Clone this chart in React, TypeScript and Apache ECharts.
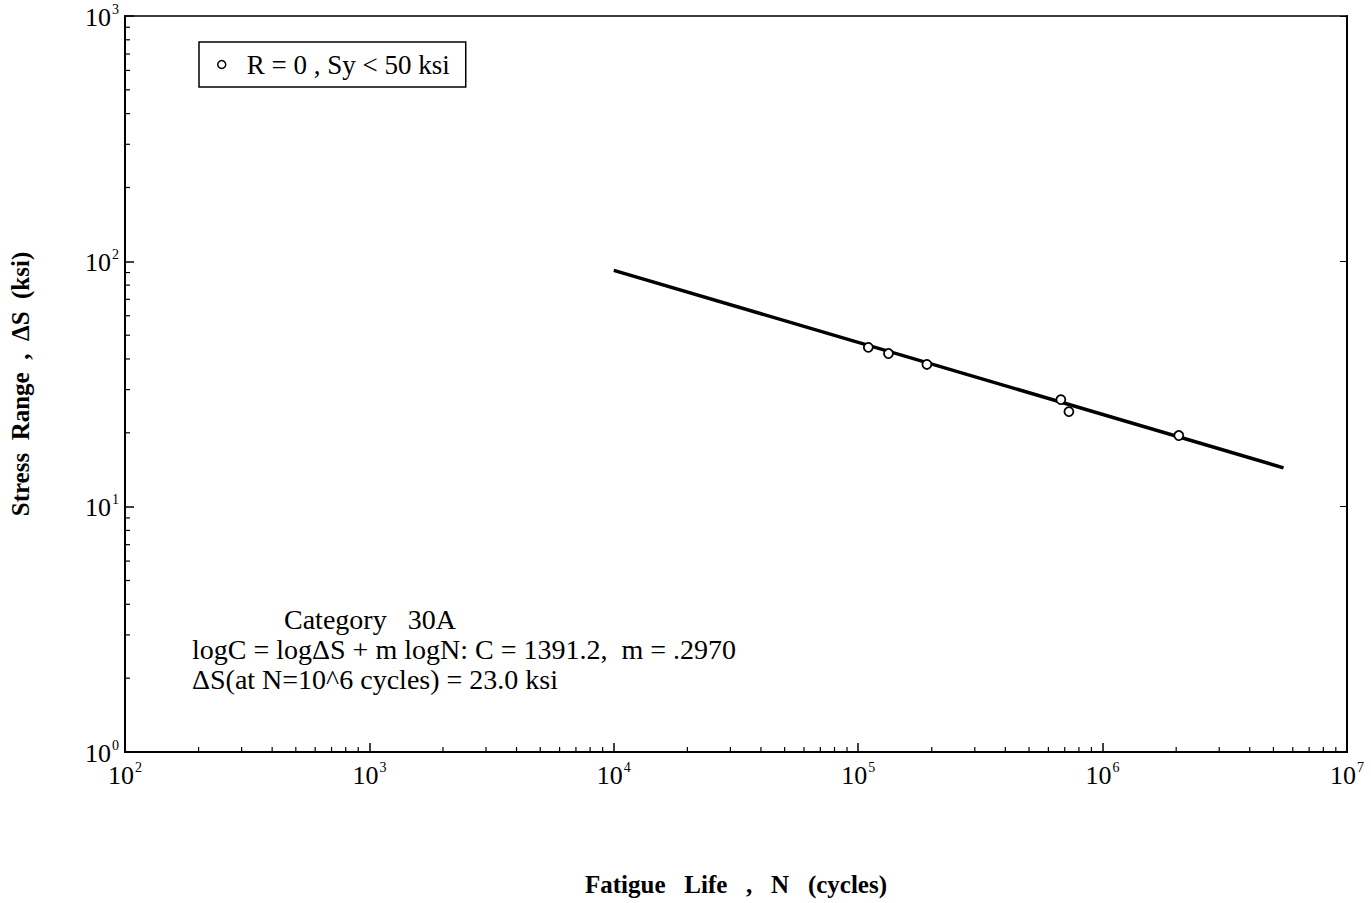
import React, { useEffect, useRef } from "react";
import * as echarts from "echarts";

const seriesName = "R = 0 , Sy < 50 ksi";
const testN = [1.1e5, 1.33e5, 1.91e5, 6.75e5, 7.28e5, 2.05e6];
const testS = [44.6, 42.1, 38.0, 27.3, 24.4, 19.5];
const fitN = [1.0e4, 5.5e6];
const fitS = [91.9, 14.4];
const xDecades = [2, 3, 4, 5, 6];
const yDecades = [0, 1, 2];
const minorMult = [2, 3, 4, 5, 6, 7, 8, 9];
const annotation = [
  "Category   30A",
  "logC = logΔS + m logN: C = 1391.2,  m = .2970",
  "ΔS(at N=10^6 cycles) = 23.0 ksi",
];

const FONT = "'Liberation Serif', 'Times New Roman', serif";

export default function App() {
  const ref = useRef<HTMLDivElement>(null);
  useEffect(() => {
    const chart = echarts.init(ref.current!, null, { renderer: "svg" });
    const xMinor: number[][] = [];
    xDecades.forEach((d) => minorMult.forEach((k) => xMinor.push([k * Math.pow(10, d), 1])));
    const yMinor: number[][] = [];
    yDecades.forEach((d) => minorMult.forEach((k) => yMinor.push([100, k * Math.pow(10, d)])));

    const supLabel = (v: number) => `{b|10}{s|${Math.round(Math.log10(v))}}`;
    const rich = {
      b: { fontFamily: FONT, fontSize: 26, color: "#000", lineHeight: 28, verticalAlign: "bottom" },
      s: { fontFamily: FONT, fontSize: 14, color: "#000", lineHeight: 28, verticalAlign: "top", padding: [0, 0, 13, 1] },
    };

    chart.setOption({
      animation: false,
      backgroundColor: "#fff",
      grid: { left: 124, right: 24, top: 16, bottom: 151, show: true, borderColor: "#000", borderWidth: 1.5 },
      legend: {
        left: 199,
        top: 42,
        data: [{ name: seriesName, icon: "circle", itemStyle: { color: "#fff", borderColor: "#000", borderWidth: 1.5 } }],
        borderColor: "#000",
        borderWidth: 1.5,
        padding: [9, 16, 9, 18],
        itemWidth: 8,
        itemHeight: 8,
        textStyle: { fontFamily: FONT, fontSize: 27, color: "#000", padding: [0, 0, 0, 16] },
      },
      xAxis: [
        {
          type: "log",
          logBase: 10,
          min: 100,
          max: 1e7,
          name: "Fatigue   Life   ,   N   (cycles)",
          nameLocation: "middle",
          nameGap: 120,
          nameTextStyle: { fontFamily: FONT, fontSize: 25, fontWeight: "bold", color: "#000" },
          axisLine: { lineStyle: { color: "#000", width: 2 } },
          axisTick: { inside: true, length: 9, lineStyle: { color: "#000", width: 1.5 } },
          axisLabel: { formatter: supLabel, rich, margin: 8 },
          splitLine: { show: false },
        },
      ],
      yAxis: [
        {
          type: "log",
          logBase: 10,
          min: 1,
          max: 1000,
          name: "Stress  Range  ,  ΔS  (ksi)",
          nameLocation: "middle",
          nameGap: 92,
          nameTextStyle: { fontFamily: FONT, fontSize: 25, fontWeight: "bold", color: "#000" },
          axisLine: { lineStyle: { color: "#000", width: 2 } },
          axisTick: { inside: true, length: 9, lineStyle: { color: "#000", width: 1.5 } },
          axisLabel: { formatter: supLabel, rich, margin: 6 },
          splitLine: { show: false },
        },
        {
          type: "log",
          logBase: 10,
          min: 1,
          max: 1000,
          position: "right",
          axisLine: { show: true, lineStyle: { color: "#000", width: 2 } },
          axisTick: { inside: true, length: 7, lineStyle: { color: "#000", width: 1 } },
          axisLabel: { show: false },
          splitLine: { show: false },
        },
      ],
      graphic: annotation.map((t, i) => ({
        type: "text",
        left: i === 0 ? 284 : 192,
        top: 605 + i * 30,
        style: { text: t, fontFamily: FONT, fontSize: 28, fill: "#000" },
      })),
      series: [
        {
          type: "line",
          name: "fit",
          data: fitN.map((n, i) => [n, fitS[i]]),
          showSymbol: false,
          lineStyle: { color: "#000", width: 3.5 },
          silent: true,
        },
        {
          type: "scatter",
          name: seriesName,
          data: testN.map((n, i) => [n, testS[i]]),
          symbol: "circle",
          symbolSize: 9,
          itemStyle: { color: "#fff", borderColor: "#000", borderWidth: 1.8, opacity: 1 },
          z: 5,
        },
        {
          type: "custom",
          name: "xminor",
          data: xMinor,
          renderItem: (_p: any, api: any) => {
            const c = api.coord([api.value(0), 1]);
            return { type: "line", shape: { x1: c[0], y1: c[1], x2: c[0], y2: c[1] - 5 }, style: { stroke: "#000", lineWidth: 1.2 } };
          },
          silent: true,
        },
        {
          type: "custom",
          name: "yminor",
          data: yMinor,
          renderItem: (_p: any, api: any) => {
            const c = api.coord([100, api.value(1)]);
            return { type: "line", shape: { x1: c[0], y1: c[1], x2: c[0] + 5, y2: c[1] }, style: { stroke: "#000", lineWidth: 1.2 } };
          },
          silent: true,
        },
      ],
    });
    return () => chart.dispose();
  }, []);
  return <div ref={ref} style={{ position: "absolute", left: 0, top: 0, width: 1371, height: 903 }} />;
}
